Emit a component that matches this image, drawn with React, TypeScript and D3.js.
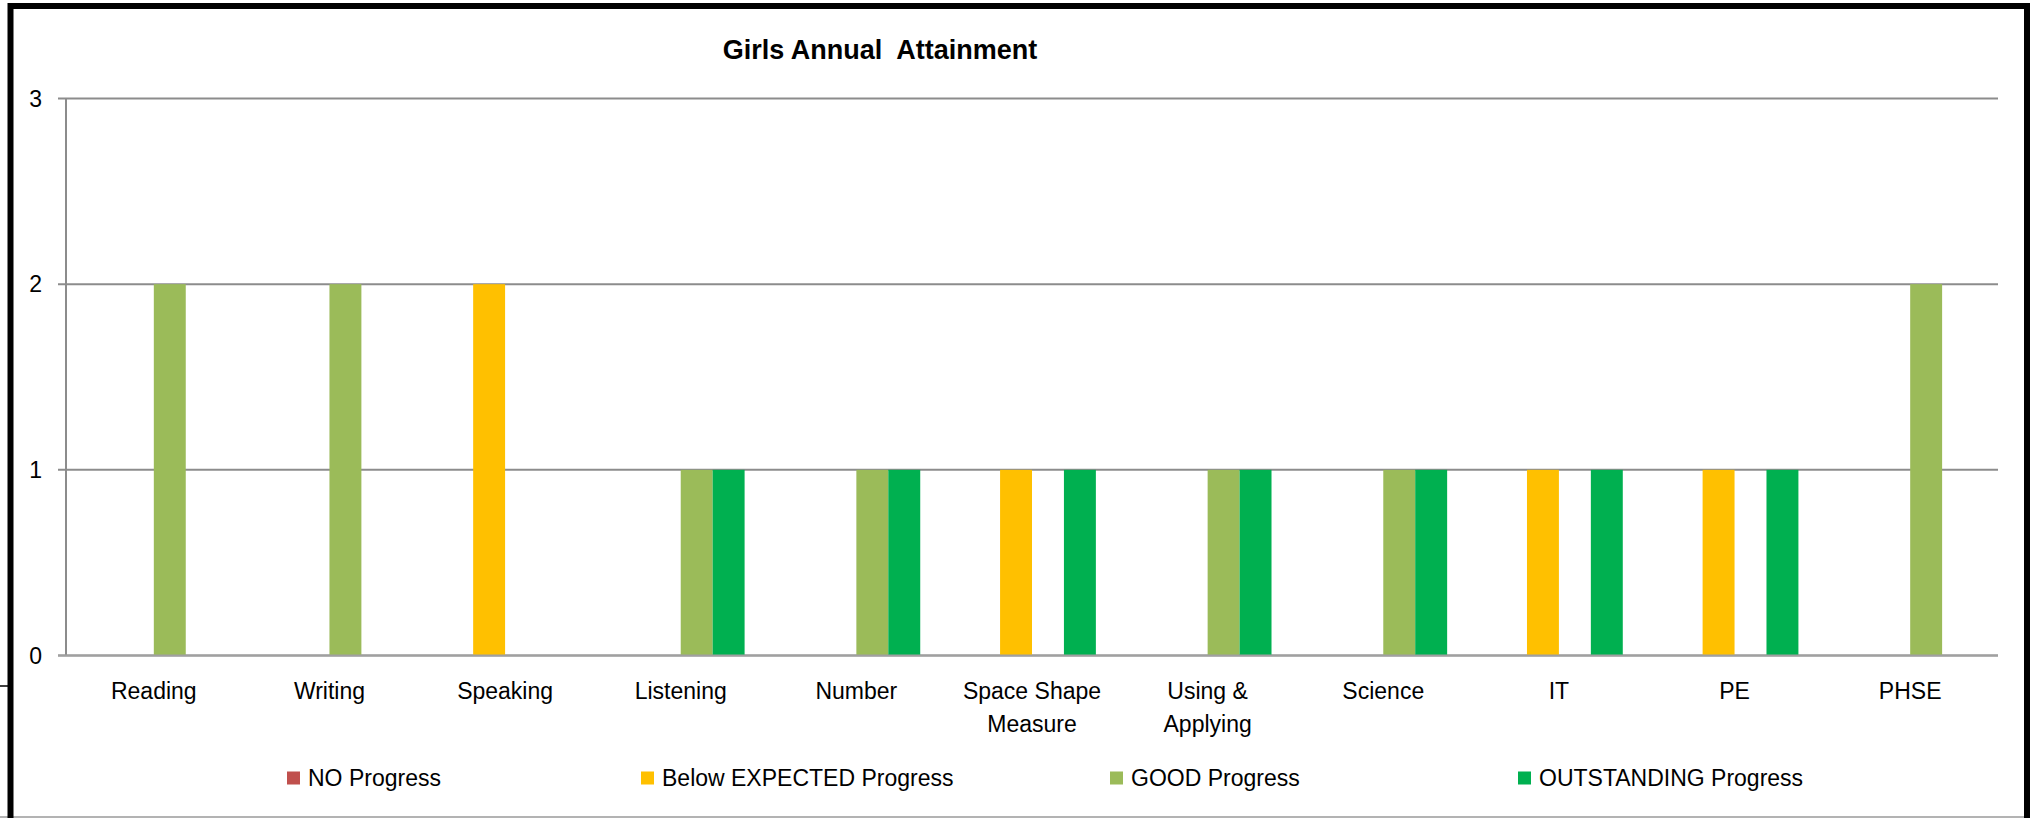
import * as d3 from 'd3';

const categories = [
  ['Reading'],
  ['Writing'],
  ['Speaking'],
  ['Listening'],
  ['Number'],
  ['Space Shape', 'Measure'],
  ['Using &', 'Applying'],
  ['Science'],
  ['IT'],
  ['PE'],
  ['PHSE'],
];

const seriesNames = ['NO Progress', 'Below EXPECTED Progress', 'GOOD Progress', 'OUTSTANDING Progress'];
const seriesColors = ['#C0504D', '#FFC000', '#9BBB59', '#00B050'];

const noProgress = [0, 0, 0, 0, 0, 0, 0, 0, 0, 0, 0];
const belowExpected = [0, 0, 2, 0, 0, 1, 0, 0, 1, 1, 0];
const goodProgress = [2, 2, 0, 1, 1, 0, 1, 1, 0, 0, 2];
const outstanding = [0, 0, 0, 1, 1, 1, 1, 1, 1, 1, 0];

const yTicks = [0, 1, 2, 3];

const W = 2031;
const H = 818;
const FONT = '"Liberation Sans", Arial, sans-serif';

export default function App() {
  const series = [noProgress, belowExpected, goodProgress, outstanding];
  const catKeys = categories.map((c) => c.join(' '));

  const x0 = d3.scaleBand<string>().domain(catKeys).range([66, 1998]).paddingInner(0.2727).paddingOuter(0.13635);
  const x1 = d3.scaleBand<number>().domain(d3.range(series.length)).range([0, x0.bandwidth()]);
  const y = d3.scaleLinear().domain([0, 3]).range([655.5, 98.5]);

  // legend positions as in the original layout
  const legendX = [287, 641, 1110, 1518];

  return (
    <svg width={W} height={H} style={{ position: 'absolute', left: 0, top: 0, background: '#fff' }}>
      <rect x={0} y={0} width={W} height={H} fill="#fff" />

      {/* title */}
      <text
        x={880}
        y={59}
        textAnchor="middle"
        fontFamily={FONT}
        fontWeight="bold"
        fontSize={27}
        style={{ whiteSpace: 'pre' }}
      >
        {'Girls Annual  Attainment'}
      </text>

      {/* gridlines + y ticks */}
      {yTicks.map((t) => (
        <g key={t}>
          <line x1={58} x2={1998} y1={y(t)} y2={y(t)} stroke="#8c8c8c" strokeWidth={2} />
          <text x={42} y={y(t)} dy="0.36em" textAnchor="end" fontFamily={FONT} fontSize={23} fill="#000">
            {t}
          </text>
        </g>
      ))}
      <line x1={66} x2={66} y1={y(3)} y2={y(0)} stroke="#8c8c8c" strokeWidth={2} />

      {/* bars */}
      {series.map((vals, si) =>
        vals.map((v, ci) =>
          v > 0 ? (
            <rect
              key={`${si}-${ci}`}
              x={(x0(catKeys[ci]) ?? 0) + (x1(si) ?? 0)}
              y={y(v)}
              width={x1.bandwidth()}
              height={y(0) - y(v)}
              fill={seriesColors[si]}
            />
          ) : null
        )
      )}
      <line x1={58} x2={1998} y1={y(0)} y2={y(0)} stroke="#a0a0a0" strokeWidth={2} />

      {/* x labels */}
      {categories.map((lines, ci) => (
        <text
          key={ci}
          x={(x0(catKeys[ci]) ?? 0) + x0.bandwidth() / 2}
          y={699}
          textAnchor="middle"
          fontFamily={FONT}
          fontSize={23}
          fill="#000"
        >
          {lines.map((l, li) => (
            <tspan key={li} x={(x0(catKeys[ci]) ?? 0) + x0.bandwidth() / 2} dy={li === 0 ? 0 : 33}>
              {l}
            </tspan>
          ))}
        </text>
      ))}

      {/* legend */}
      {seriesNames.map((name, i) => (
        <g key={name} transform={`translate(${legendX[i]},778)`}>
          <rect x={0} y={-6.5} width={13} height={13} fill={seriesColors[i]} />
          <text x={21} y={0} dy="0.36em" fontFamily={FONT} fontSize={23} fill="#000">
            {name}
          </text>
        </g>
      ))}

      {/* outer frame */}
      <line x1={0} x2={2027} y1={817} y2={817} stroke="#9a9a9a" strokeWidth={1.5} />
      <path d="M10.5,818 V6 H2027 V818" fill="none" stroke="#000" strokeWidth={6} />
      <line x1={0} x2={9} y1={686} y2={686} stroke="#000" strokeWidth={1.5} />
    </svg>
  );
}
